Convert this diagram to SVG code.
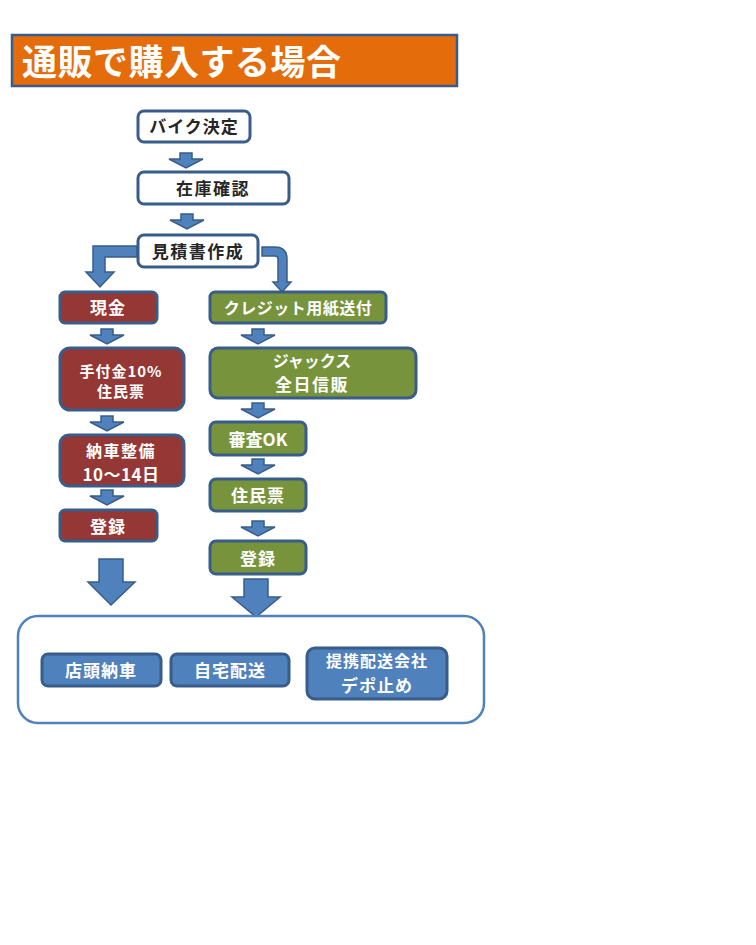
<svg xmlns="http://www.w3.org/2000/svg" xmlns:xlink="http://www.w3.org/1999/xlink" width="756" height="945" viewBox="0 0 756 945">
<style>
text{font-family:"Noto Sans CJK JP","Noto Sans",sans-serif;font-weight:700;text-anchor:middle}
.w{fill:#ffffff}
.k{fill:#262626}
.bw{fill:#ffffff;stroke:#385D8A;stroke-width:3}
.br{fill:#953735;stroke:#385D8A;stroke-width:3}
.bg{fill:#77933C;stroke:#385D8A;stroke-width:3}
.bb{fill:#4F81BD;stroke:#385D8A;stroke-width:3}
.ar{fill:#4F81BD;stroke:#385D8A;stroke-width:1.5}
</style>
<defs>
<path id="sa" d="M-6,0 H6 V6 H17 L0,15 L-17,6 H-6 Z"/>
</defs>
<rect x="0" y="0" width="756" height="945" fill="#ffffff"/>

<g id="title">
<rect x="12" y="35" width="445" height="51" fill="#E46C0A" stroke="#385D8A" stroke-width="2.5"/>
<text x="22" y="75" class="w" style="font-size:35px;text-anchor:start;letter-spacing:0.5px">通販で購入する場合</text>
</g>

<g id="connectors">
<use xlink:href="#sa" x="186" y="153" class="ar"/>
<use xlink:href="#sa" x="187" y="214" class="ar"/>
<path class="ar" d="M137,246 L93,246 L93,272 L86,272 L100,287 L114,272 L105,272 L105,257 L137,257 Z"/>
<path class="ar" d="M262,247 L275,247 Q287,247 287,259 L287,282 L291,282 L282,292 L273,282 L278,282 L278,259 Q278,256 275,256 L262,256 Z"/>
<use xlink:href="#sa" x="107" y="329" class="ar"/>
<use xlink:href="#sa" x="258" y="329" class="ar"/>
<use xlink:href="#sa" x="107" y="416" class="ar"/>
<use xlink:href="#sa" x="258" y="403" class="ar"/>
<use xlink:href="#sa" x="107" y="490" class="ar"/>
<use xlink:href="#sa" x="258" y="459" class="ar"/>
<use xlink:href="#sa" x="258" y="521" class="ar"/>
<path class="ar" d="M99,559 H123 V582 H135 L111,605 L88,582 H99 Z"/>
<path class="ar" d="M244,579 H268 V597 H280 L256,617 L232,597 H244 Z"/>
</g>

<g id="n-bike"><rect x="138" y="111" width="112" height="31" rx="6" class="bw"/><text x="194" y="133" class="k" style="font-size:17px;letter-spacing:1px">バイク決定</text></g>
<g id="n-zaiko"><rect x="138" y="172" width="151" height="32" rx="6" class="bw"/><text x="213" y="195" class="k" style="font-size:17px;letter-spacing:1.5px">在庫確認</text></g>
<g id="n-mitsumori"><rect x="138" y="235" width="120" height="32" rx="6" class="bw"/><text x="198" y="258" class="k" style="font-size:17px;letter-spacing:1.5px">見積書作成</text></g>

<g id="n-genkin"><rect x="60" y="292" width="97" height="31" rx="5" class="br"/><text x="108" y="314" class="w" style="font-size:17px;letter-spacing:1px">現金</text></g>
<g id="n-tetsuke"><rect x="60" y="348" width="124" height="62" rx="10" class="br"/><text x="121" y="377" class="w" style="font-size:15px;letter-spacing:1px">手付金10%</text><text x="121" y="397" class="w" style="font-size:15px;letter-spacing:1px">住民票</text></g>
<g id="n-nousha"><rect x="60" y="435" width="124" height="51" rx="9" class="br"/><text x="121" y="457" class="w" style="font-size:16px;letter-spacing:1.5px">納車整備</text><text x="121" y="481" class="w" style="font-size:17px;letter-spacing:0.5px">10～14日</text></g>
<g id="n-touroku1"><rect x="60" y="510" width="97" height="31" rx="5" class="br"/><text x="108" y="533" class="w" style="font-size:17px;letter-spacing:1px">登録</text></g>

<g id="n-credit"><rect x="210" y="292" width="176" height="31" rx="5" class="bg"/><text x="298" y="314" class="w" style="font-size:16px;letter-spacing:0.5px">クレジット用紙送付</text></g>
<g id="n-jacks"><rect x="210" y="348" width="206" height="50" rx="8" class="bg"/><text x="312" y="367" class="w" style="font-size:16px">ジャックス</text><text x="312" y="391" class="w" style="font-size:17px;letter-spacing:1.5px">全日信販</text></g>
<g id="n-shinsa"><rect x="210" y="422" width="96" height="33" rx="6" class="bg"/><text x="258" y="446" class="w" style="font-size:17px">審査OK</text></g>
<g id="n-juumin"><rect x="210" y="479" width="96" height="32" rx="6" class="bg"/><text x="258" y="502" class="w" style="font-size:17px;letter-spacing:1px">住民票</text></g>
<g id="n-touroku2"><rect x="210" y="541" width="96" height="33" rx="6" class="bg"/><text x="258" y="565" class="w" style="font-size:17px;letter-spacing:1px">登録</text></g>

<g id="n-delivery">
<rect x="18" y="616" width="466" height="107" rx="20" fill="#ffffff" stroke="#4F81BD" stroke-width="2.5"/>
</g>
<g id="n-tentou"><rect x="42" y="654" width="119" height="32" rx="6" class="bb"/><text x="101" y="677" class="w" style="font-size:17px;letter-spacing:1px">店頭納車</text></g>
<g id="n-jitaku"><rect x="171" y="654" width="118" height="32" rx="6" class="bb"/><text x="230" y="677" class="w" style="font-size:17px;letter-spacing:1px">自宅配送</text></g>
<g id="n-teikei"><rect x="307" y="648" width="140" height="51" rx="8" class="bb"/><text x="377" y="667" class="w" style="font-size:16px;letter-spacing:1px">提携配送会社</text><text x="377" y="692" class="w" style="font-size:17px;letter-spacing:1px">デポ止め</text></g>
</svg>
